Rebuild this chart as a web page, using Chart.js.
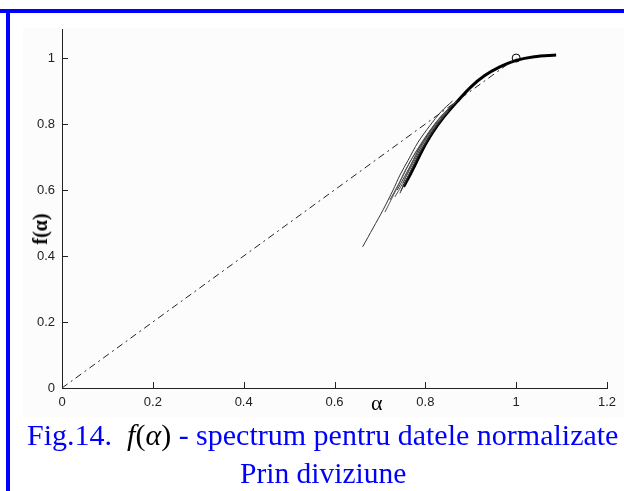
<!DOCTYPE html>
<html>
<head>
<meta charset="utf-8">
<script src="https://cdn.jsdelivr.net/npm/chart.js@4/dist/chart.umd.min.js"></script>
<style>
  html, body { margin: 0; padding: 0; background: #fff; }
  #wrap { position: relative; width: 624px; height: 491px; overflow: hidden; background: #fff; }
  #panel { position: absolute; left: 23px; top: 28px; width: 601px; height: 389px; background: #fcfcfc; }
  #topbar { position: absolute; left: 0; top: 9px; width: 624px; height: 4px; background: #0000ff; }
  #leftbar { position: absolute; left: 6px; top: 9px; width: 4px; height: 482px; background: #0000ff; }
  canvas { position: absolute; left: 0; top: 0; }
  .cap { position: absolute; font-family: "Liberation Serif", "Times New Roman", serif; font-size: 30px; color: #0000ff; white-space: pre; line-height: 1; }
  .math { color: #000; }
  .math i { font-style: italic; }
  #xlab { position: absolute; left: 371px; top: 392px; font-family: "Liberation Serif", serif; font-size: 22px; color: #000; line-height: 1; }
  #ylab { position: absolute; left: 40px; top: 229px; font-family: "Liberation Serif", serif; font-size: 20px; font-weight: bold; color: #000; transform: translate(-50%, -50%) rotate(-90deg); white-space: nowrap; line-height: 1; }
</style>
</head>
<body>
<div id="wrap">
  <div id="panel"></div>
  <div id="topbar"></div>
  <div id="leftbar"></div>
  <canvas id="c" width="624" height="491"></canvas>
  <div id="xlab">α</div>
  <div id="ylab">f(α)</div>
  <div class="cap" id="cap1" style="left:27px; top:420px;">Fig.14.  <span class="math"><i>f</i>(<i>α</i>)</span> - spectrum pentru datele normalizate</div>
  <div class="cap" id="cap2" style="left:240px; top:459px; font-size:29.5px;">Prin diviziune</div>
</div>
<script>
// ---- data ----
const xTicks = [0, 0.2, 0.4, 0.6, 0.8, 1, 1.2];
const yTicks = [0, 0.2, 0.4, 0.6, 0.8, 1];

// reference line f = alpha (dash-dot)
const refAlpha = [0, 1];
const refF     = [0, 1];

// main (thick) curve
const mainAlpha = [0.752, 0.765, 0.777, 0.793, 0.815, 0.840, 0.870, 0.900, 0.930, 0.964, 1.000, 1.040, 1.088];
const mainF     = [0.610, 0.642, 0.675, 0.720, 0.772, 0.820, 0.868, 0.912, 0.946, 0.973, 0.993, 1.004, 1.009];

// long thin tail curve
const tailAlpha = [0.662, 0.685, 0.707, 0.729, 0.744, 0.762, 0.784, 0.810, 0.835, 0.860];
const tailF     = [0.428, 0.485, 0.540, 0.600, 0.645, 0.690, 0.745, 0.795, 0.838, 0.870];

// bundle strands
const s1Alpha = [0.711, 0.730, 0.748, 0.768, 0.790, 0.815, 0.840, 0.868];
const s1F     = [0.533, 0.585, 0.635, 0.690, 0.740, 0.790, 0.832, 0.868];
const s2Alpha = [0.722, 0.740, 0.756, 0.775, 0.797, 0.820, 0.845, 0.870];
const s2F     = [0.570, 0.615, 0.660, 0.705, 0.752, 0.797, 0.838, 0.870];
const s3Alpha = [0.733, 0.750, 0.765, 0.782, 0.802, 0.825, 0.850];
const s3F     = [0.579, 0.620, 0.665, 0.710, 0.755, 0.800, 0.840];
const s4Alpha = [0.744, 0.758, 0.772, 0.788, 0.808, 0.830, 0.855];
const s4F     = [0.590, 0.630, 0.670, 0.715, 0.760, 0.805, 0.845];
const s5Alpha = [0.751, 0.765, 0.780, 0.797, 0.818, 0.840];
const s5F     = [0.621, 0.660, 0.700, 0.745, 0.790, 0.826];
const s6Alpha = [0.738, 0.754, 0.770, 0.786, 0.806, 0.828, 0.852];
const s6F     = [0.600, 0.640, 0.682, 0.725, 0.770, 0.812, 0.848];
const s7Alpha = [0.746, 0.760, 0.775, 0.792, 0.812, 0.835];
const s7F     = [0.598, 0.636, 0.676, 0.722, 0.768, 0.812];

// marker point
const markAlpha = [1.0];
const markF     = [1.0];

function pts(a, f) { return a.map((v, i) => ({ x: v, y: f[i] })); }

function line(a, f, color, width, dash) {
  return {
    data: pts(a, f), borderColor: color, borderWidth: width, borderDash: dash || [],
    pointRadius: 0, fill: false, tension: 0.3, showLine: true
  };
}

const datasets = [
  line(refAlpha, refF, '#222', 1, [7, 4, 2, 4]),
  line(tailAlpha, tailF, '#333', 1),
  line(s1Alpha, s1F, '#555', 1),
  line(s2Alpha, s2F, '#444', 1),
  line(s3Alpha, s3F, '#555', 1),
  line(s4Alpha, s4F, '#333', 1),
  line(s5Alpha, s5F, '#444', 1),
  line(s6Alpha, s6F, '#333', 1),
  line(s7Alpha, s7F, '#222', 1),
  line(mainAlpha, mainF, '#000', 3),
  { data: pts(markAlpha, markF), showLine: false, pointRadius: 4, pointStyle: 'circle',
    pointBackgroundColor: 'rgba(0,0,0,0)', pointBorderColor: '#000', pointBorderWidth: 1 }
];

const innerTicks = {
  id: 'innerTicks',
  afterDraw(chart) {
    const ctx = chart.ctx, xs = chart.scales.x, ys = chart.scales.y;
    ctx.save();
    ctx.strokeStyle = '#222';
    ctx.lineWidth = 1;
    ctx.beginPath();
    xTicks.forEach(v => {
      const px = Math.round(xs.getPixelForValue(v)) + 0.5;
      ctx.moveTo(px, ys.bottom); ctx.lineTo(px, ys.bottom - 6);
    });
    yTicks.forEach(v => {
      const py = Math.round(ys.getPixelForValue(v)) + 0.5;
      ctx.moveTo(xs.left, py); ctx.lineTo(xs.left + 6, py);
    });
    ctx.stroke();
    ctx.restore();
  }
};

new Chart(document.getElementById('c'), {
  type: 'scatter',
  data: { datasets },
  options: {
    responsive: false,
    animation: false,
    layout: { padding: { left: 22, right: 17, top: 29, bottom: 83 } },
    plugins: { legend: { display: false }, tooltip: { enabled: false } },
    scales: {
      x: {
        type: 'linear', min: 0, max: 1.2,
        afterFit(s) { s.height = 20; },
        afterBuildTicks(s) { s.ticks = xTicks.map(v => ({ value: v })); },
        grid: { display: false, drawTicks: false },
        border: { display: true, color: '#222', width: 1 },
        ticks: { padding: 7, color: '#222', font: { family: 'Liberation Sans', size: 13 },
                 callback: v => String(v) }
      },
      y: {
        type: 'linear', min: 0, max: 1.088,
        afterFit(s) { s.width = 40; },
        afterBuildTicks(s) { s.ticks = yTicks.map(v => ({ value: v })); },
        grid: { display: false, drawTicks: false },
        border: { display: true, color: '#222', width: 1 },
        ticks: { padding: 7, color: '#222', font: { family: 'Liberation Sans', size: 13 },
                 callback: v => String(v) }
      }
    }
  },
  plugins: [innerTicks]
});
</script>
</body>
</html>
